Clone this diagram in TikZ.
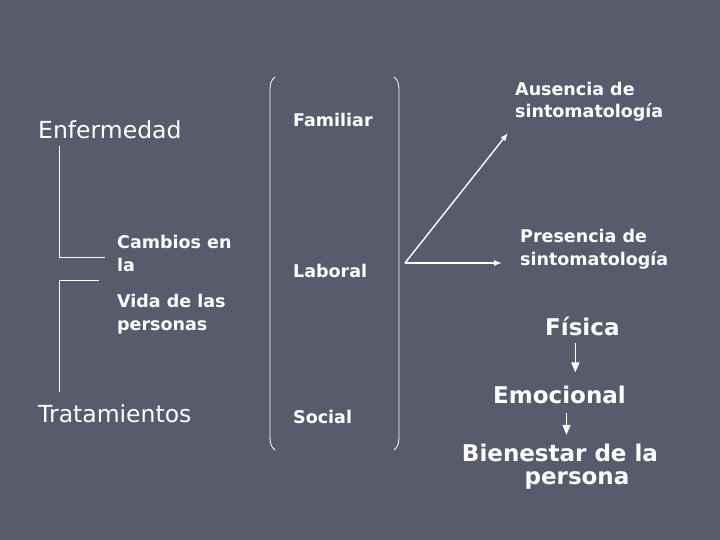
\documentclass[tikz,border=0pt]{standalone}
\usepackage{fontspec}
\setmainfont{DejaVu Sans}
\usetikzlibrary{arrows.meta}
\definecolor{slidebg}{RGB}{88,91,107}
\tikzset{
  plain/.style={font=\fontsize{23.5}{25}\selectfont,text=white,inner sep=0pt,anchor=base west},
  small/.style={font=\bfseries\fontsize{17.5}{22.5}\selectfont,text=white,inner sep=0pt,align=left,anchor=base west},
  big/.style={font=\bfseries\fontsize{23}{22.5}\selectfont,text=white,inner sep=0pt},
  link/.style={white,line width=0.8pt},
  paren/.style={white,line width=0.8pt},
  arr/.style={-{Latex[length=8pt,width=6pt]},white,line width=1.4pt},
  down/.style={-{Triangle[length=10pt,width=8pt]},white,line width=1.6pt}
}

\begin{document}
\begin{tikzpicture}[x=1pt,y=-1pt]

% slide background
\fill[slidebg] (0,0) rectangle (720,540);
\useasboundingbox (0,0) rectangle (720,540);

% left column (multi-line nodes sit on their last baseline)
\node[plain] (enf) at (38,139) {Enfermedad};
\node[small] (cambios) at (117,271) {Cambios en\\la};
\node[small] (vida) at (117,330) {Vida de las\\personas};
\node[plain] (trat) at (38,422) {Tratamientos};

\draw[link] ([shift={(21pt,-6pt)}]enf.south west) |- ([shift={(-12pt,-4pt)}]cambios.west);
\draw[link] ([shift={(-18pt,14pt)}]vida.north west) -| ([shift={(21pt,12pt)}]trat.north west);

% middle group in parentheses
\node[small] (familiar) at (293,127) {Familiar};
\node[small] (laboral) at (293,277) {Laboral};
\node[small] (social) at (293,423) {Social};

\draw[paren] (275,77) .. controls (271,80) and (270,84) .. (270,90) -- (270,437)
  .. controls (270,443) and (271,447) .. (275,450);
\draw[paren] (394,77) .. controls (398,80) and (399,84) .. (399,90) -- (399,437)
  .. controls (399,443) and (398,447) .. (394,450);

% symptoms
\node[small] (ausencia) at (515,118) {Ausencia de\\sintomatología};
\node[small] (presencia) at (520,265) {Presencia de\\sintomatología};

\coordinate (raiz) at (405,263);
\draw[arr] (raiz) -- ([shift={(-7pt,-11pt)}]ausencia.south west);
\draw[arr] (raiz) -- ([xshift=-18pt]raiz -| presencia.west);

% chain on the right
\node[big,anchor=base west] (fisica) at (545,335) {Física};
\node[big,anchor=base west] (emocional) at (493,403) {Emocional};
\node[big,anchor=base,align=center] (bienestar) at (560,484) {Bienestar de la\\\hspace*{34pt}persona};

\draw[down] ([shift={(-7pt,-7pt)}]fisica.south) -- ([shift={(-7pt,13pt)}]fisica.south |- emocional.north);
\draw[down] ([shift={(7pt,-9pt)}]emocional.south) -- ([shift={(7pt,9pt)}]emocional.south |- bienestar.north);

\end{tikzpicture}
\end{document}
